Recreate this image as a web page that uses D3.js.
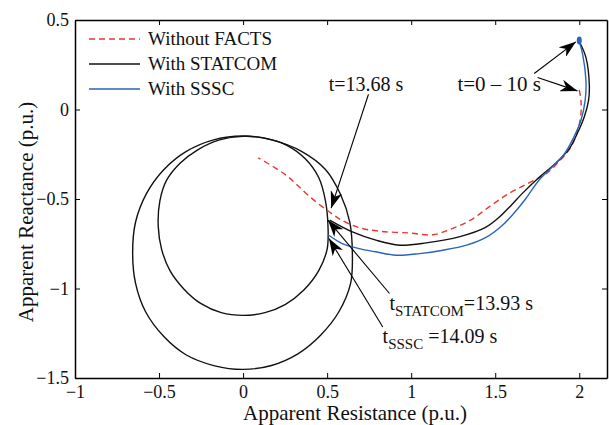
<!DOCTYPE html>
<html>
<head>
<meta charset="utf-8">
<script src="https://cdn.jsdelivr.net/npm/d3@7"></script>
<style>
  body { margin: 0; background: #fff; }
  svg { display: block; font-family: "Liberation Serif", "DejaVu Serif", serif; }
</style>
</head>
<body>
<svg id="chart" width="609" height="425"></svg>
<script>
// apparent impedance trajectories, [R, X] in p.u.

const SERIES = [
    { id: "none",    label: "Without FACTS", color: "#e8382f", dash: "6,4" },
    { id: "statcom", label: "With STATCOM",  color: "#111111", dash: null },
    { id: "sssc",    label: "With SSSC",     color: "#2a63b8", dash: null },
];

const WITHOUT_FACTS = [
    [2.00, 0.11], [2.01, 0.05], [2.01, -0.02], [1.99, -0.12], [1.95, -0.21],
    [1.89, -0.28], [1.80, -0.36], [1.70, -0.41], [1.58, -0.47], [1.47, -0.54],
    [1.35, -0.62], [1.23, -0.67], [1.13, -0.70], [0.99, -0.69], [0.81, -0.68],
    [0.69, -0.66], [0.59, -0.62], [0.51, -0.57], [0.40, -0.49], [0.32, -0.42],
    [0.26, -0.37], [0.18, -0.32], [0.09, -0.27],
];

const WITH_STATCOM = [
    [2.00, 0.38], [2.04, 0.29], [2.06, 0.13], [2.055, 0.05], [2.03, -0.04],
    [1.99, -0.13], [1.94, -0.22], [1.86, -0.30], [1.76, -0.38], [1.66, -0.47],
    [1.59, -0.54], [1.52, -0.605], [1.44, -0.66], [1.29, -0.71], [1.09, -0.745],
    [0.93, -0.758], [0.79, -0.73], [0.65, -0.684], [0.515, -0.618],
];

const WITH_SSSC = [
    [2.00, 0.38], [2.02, 0.31], [2.04, 0.16], [2.035, 0.05], [2.01, -0.06],
    [1.97, -0.15], [1.91, -0.25], [1.84, -0.32], [1.76, -0.395], [1.68, -0.50],
    [1.62, -0.57], [1.54, -0.65], [1.445, -0.715], [1.33, -0.758], [1.19, -0.786],
    [1.05, -0.805], [0.91, -0.814], [0.79, -0.795], [0.69, -0.777], [0.59, -0.749],
    [0.505, -0.70],
];
const SSSC_START = [2.0, 0.385];

// post-fault loops (drawn black)
const LOOP_INNER = [
    [0, -0.15], [0.13, -0.16], [0.26, -0.20], [0.37, -0.275], [0.45, -0.38],
    [0.49, -0.51], [0.505, -0.65], [0.50, -0.78], [0.45, -0.90], [0.36, -1.01],
    [0.25, -1.09], [0.13, -1.135], [0, -1.15], [-0.13, -1.135], [-0.25, -1.085],
    [-0.35, -1.005], [-0.435, -0.90], [-0.485, -0.78], [-0.505, -0.65], [-0.495, -0.51],
    [-0.455, -0.395], [-0.375, -0.30], [-0.27, -0.225], [-0.14, -0.17],
];
const LOOP_OUTER = [
    [0, -0.148], [0.17, -0.17], [0.35, -0.235], [0.49, -0.335], [0.58, -0.475],
    [0.635, -0.63], [0.65, -0.80], [0.64, -0.97], [0.57, -1.13], [0.461, -1.261],
    [0.326, -1.365], [0.169, -1.43], [0, -1.452], [-0.169, -1.432], [-0.34, -1.37],
    [-0.47, -1.27], [-0.58, -1.13], [-0.64, -0.97], [-0.657, -0.80], [-0.64, -0.63],
    [-0.575, -0.47], [-0.475, -0.339], [-0.34, -0.235], [-0.17, -0.168],
];

const X_TICKS = [-1, -0.5, 0, 0.5, 1, 1.5, 2];
const X_TICK_LABELS = ["\u22121", "\u22120.5", "0", "0.5", "1", "1.5", "2"];
const Y_TICKS = [0.5, 0, -0.5, -1, -1.5];
const Y_TICK_LABELS = ["0.5", "0", "\u22120.5", "\u22121", "\u22121.5"];

const X_LABEL = "Apparent Resistance (p.u.)";
const Y_LABEL = "Apparent Reactance (p.u.)";

// ── Layout ─────────────────────────────────────────────────────────────────
const W = 609, H = 425;
const margin = { top: 20, right: 2, bottom: 47, left: 75 };

const svg = d3.select("#chart");

const x = d3.scaleLinear().domain([-1, 2.165]).range([margin.left, W - margin.right]);
const y = d3.scaleLinear().domain([-1.5, 0.5]).range([H - margin.bottom, margin.top]);

const line = d3.line().x(d => x(d[0])).y(d => y(d[1])).curve(d3.curveCatmullRom);
const loop = d3.line().x(d => x(d[0])).y(d => y(d[1])).curve(d3.curveCatmullRomClosed);

// arrowhead
svg.append("defs").append("marker")
    .attr("id", "head")
    .attr("markerUnits", "userSpaceOnUse")
    .attr("markerWidth", 18).attr("markerHeight", 12)
    .attr("refX", 17).attr("refY", 6)
    .attr("orient", "auto")
  .append("path")
    .attr("d", "M0,0 L17,6 L0,12 L5,6 Z")
    .attr("fill", "#000");

// ── Curves ─────────────────────────────────────────────────────────────────
const plot = svg.append("g");

[LOOP_OUTER, LOOP_INNER].forEach(pts => {
    plot.append("path")
        .attr("d", loop(pts))
        .attr("fill", "none")
        .attr("stroke", "#111")
        .attr("stroke-width", 1.4);
});

const seriesData = { none: WITHOUT_FACTS, statcom: WITH_STATCOM, sssc: WITH_SSSC };
SERIES.forEach(s => {
    plot.append("path")
        .attr("d", line(seriesData[s.id]))
        .attr("fill", "none")
        .attr("stroke", s.color)
        .attr("stroke-width", 1.4)
        .attr("stroke-dasharray", s.dash);
});

plot.append("ellipse")
    .attr("cx", x(SSSC_START[0])).attr("cy", y(SSSC_START[1]))
    .attr("rx", 2.5).attr("ry", 4)
    .attr("fill", SERIES[2].color);

// ── Annotations ────────────────────────────────────────────────────────────
const arrows = [
    { from: [0.746, 0.085], to: [0.524, -0.551] },
    { from: [1.732, 0.201], to: [1.980, 0.378] },
    { from: [1.752, 0.179], to: [1.989, 0.104] },
    { from: [0.871, -1.028], to: [0.505, -0.618] },
    { from: [0.831, -1.215], to: [0.511, -0.721] },
];
arrows.forEach(a => {
    svg.append("line")
        .attr("x1", x(a.from[0])).attr("y1", y(a.from[1]))
        .attr("x2", x(a.to[0])).attr("y2", y(a.to[1]))
        .attr("stroke", "#000").attr("stroke-width", 1.1)
        .attr("marker-end", "url(#head)");
});

const note = svg.append("g").attr("font-size", 20).attr("fill", "#111");
note.append("text").attr("x", x(0.509)).attr("y", y(0.102)).text("t=13.68 s");
note.append("text").attr("x", x(1.275)).attr("y", y(0.102)).attr("font-size", 21).text("t=0 \u2013 10 s");

const t1 = note.append("text").attr("x", x(0.871)).attr("y", y(-1.121));
t1.append("tspan").text("t");
t1.append("tspan").attr("font-size", 15).attr("dy", 6).text("STATCOM");
t1.append("tspan").attr("dy", -6).text("=13.93 s");

const t2 = note.append("text").attr("x", x(0.83)).attr("y", y(-1.306));
t2.append("tspan").text("t");
t2.append("tspan").attr("font-size", 15).attr("dy", 6).text("SSSC");
t2.append("tspan").attr("dy", -6).text(" =14.09 s");

// ── Legend ─────────────────────────────────────────────────────────────────
const legend = svg.append("g").attr("font-size", 19).attr("fill", "#111");
SERIES.forEach((s, i) => {
    const ly = 39 + i * 25;
    legend.append("line")
        .attr("x1", 89).attr("x2", 140).attr("y1", ly).attr("y2", ly)
        .attr("stroke", s.color).attr("stroke-width", 1.4)
        .attr("stroke-dasharray", s.dash);
    legend.append("text")
        .attr("x", 148).attr("y", ly).attr("dy", "0.33em")
        .text(s.label);
});

// ── Axes ───────────────────────────────────────────────────────────────────
const xAxis = d3.axisBottom(x).tickValues(X_TICKS)
    .tickFormat((d, i) => X_TICK_LABELS[i]).tickSizeInner(-5).tickSizeOuter(0).tickPadding(7);
const yAxis = d3.axisLeft(y).tickValues(Y_TICKS)
    .tickFormat((d, i) => Y_TICK_LABELS[i]).tickSizeInner(-5).tickSizeOuter(0).tickPadding(6);

svg.append("g").attr("transform", `translate(0,${H - margin.bottom})`).call(xAxis);
svg.append("g").attr("transform", `translate(${margin.left},0)`).call(yAxis);
svg.append("g").attr("transform", `translate(0,${margin.top})`)
    .call(d3.axisTop(x).tickValues(X_TICKS).tickFormat("").tickSizeInner(-5).tickSizeOuter(0));
svg.append("g").attr("transform", `translate(${W - margin.right},0)`)
    .call(d3.axisRight(y).tickValues(Y_TICKS).tickFormat("").tickSizeInner(-5).tickSizeOuter(0));

svg.selectAll(".domain").attr("stroke", "#000").attr("stroke-width", 1.5);
svg.selectAll(".tick line").attr("stroke", "#000").attr("stroke-width", 1);
svg.selectAll(".tick text").attr("font-size", 18).attr("fill", "#111")
    .attr("font-family", "Liberation Serif, DejaVu Serif, serif");

svg.append("text")
    .attr("x", 355).attr("y", 420)
    .attr("text-anchor", "middle").attr("font-size", 21).attr("fill", "#111")
    .text(X_LABEL);

svg.append("text")
    .attr("transform", `translate(33,${212}) rotate(-90)`)
    .attr("text-anchor", "middle").attr("font-size", 21).attr("fill", "#111")
    .text(Y_LABEL);
</script>
</body>
</html>
